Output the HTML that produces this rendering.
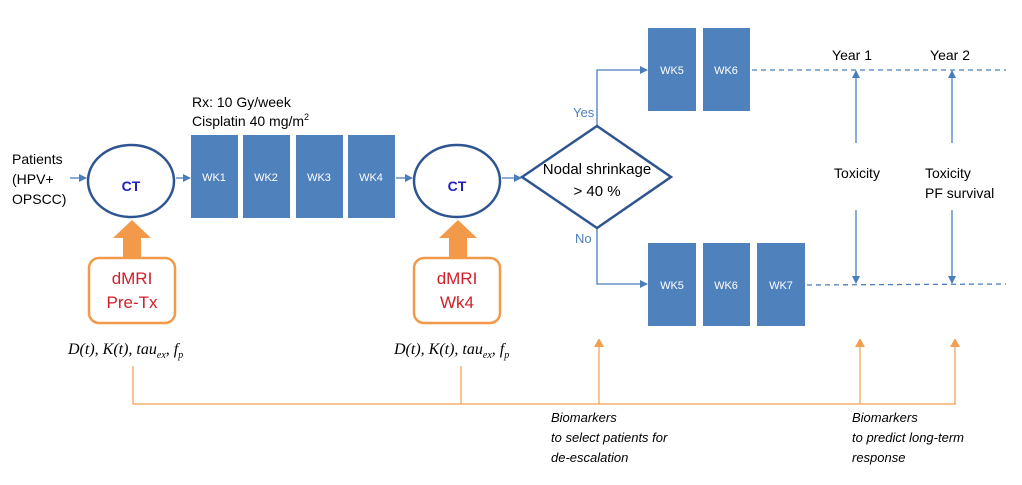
<!DOCTYPE html>
<html><head><meta charset="utf-8"><style>
body{margin:0;background:#fff;width:1022px;height:480px;overflow:hidden}
svg text{font-family:"Liberation Sans",sans-serif}
</style></head><body>
<svg width="1022" height="480" viewBox="0 0 1022 480" xmlns="http://www.w3.org/2000/svg">
<defs>
<marker id="ab" markerWidth="8" markerHeight="8" refX="7" refY="4" orient="auto" markerUnits="userSpaceOnUse"><path d="M0,0 L8,4 L0,8 Z" fill="#4a7ebb"/></marker>
<marker id="ao" markerWidth="8" markerHeight="10" refX="7" refY="5" orient="auto" markerUnits="userSpaceOnUse"><path d="M0,0 L9,5 L0,10 Z" fill="#f0a050"/></marker>
</defs>
<g font-size="14" fill="#000">
<text x="12" y="164">Patients</text><text x="12" y="184">(HPV+</text><text x="12" y="204">OPSCC)</text>
<text x="192" y="107">Rx: 10 Gy/week</text>
<text x="192" y="126">Cisplatin 40 mg/m<tspan dy="-6" font-size="9">2</tspan></text>
</g>
<g stroke="#4a7ebb" stroke-width="1.3" fill="none">
<line x1="70" y1="178" x2="86" y2="178" marker-end="url(#ab)"/>
<line x1="176" y1="178" x2="190" y2="178" marker-end="url(#ab)"/>
<line x1="396" y1="178" x2="412" y2="178" marker-end="url(#ab)"/>
<line x1="502" y1="178" x2="521" y2="178" marker-end="url(#ab)"/>
<polyline points="597,126 597,70 647,70" marker-end="url(#ab)"/>
<polyline points="597,228 597,284 647,284" marker-end="url(#ab)"/>
<line x1="856" y1="143" x2="856" y2="71" marker-end="url(#ab)"/>
<line x1="856" y1="210" x2="856" y2="283" marker-end="url(#ab)"/>
<line x1="952" y1="143" x2="952" y2="71" marker-end="url(#ab)"/>
<line x1="952" y1="210" x2="952" y2="283" marker-end="url(#ab)"/>
<line x1="752" y1="70" x2="1006" y2="70" stroke-dasharray="5,4"/>
<line x1="807" y1="285" x2="1006" y2="284" stroke-dasharray="5,4"/>
</g>
<g stroke="#2e5591" stroke-width="2.5" fill="#fff">
<ellipse cx="131" cy="181" rx="43" ry="36"/>
<ellipse cx="457" cy="181" rx="43" ry="36"/>
<polygon points="522,177 597,126 671,177 597,228"/>
</g>
<g font-size="14" font-weight="bold" fill="#1f1fbf" text-anchor="middle">
<text x="131" y="191">CT</text><text x="457" y="191">CT</text>
</g>
<g font-size="15" fill="#000" text-anchor="middle">
<text x="597" y="174">Nodal shrinkage</text><text x="597" y="196">&gt; 40 %</text>
</g>
<g fill="#4f81bd">
<rect x="191" y="135" width="47" height="83"/><rect x="243" y="135" width="47" height="83"/>
<rect x="296" y="135" width="47" height="83"/><rect x="348" y="135" width="47" height="83"/>
<rect x="648" y="28" width="48" height="83"/><rect x="703" y="28" width="47" height="83"/>
<rect x="648" y="243" width="48" height="83"/><rect x="703" y="243" width="47" height="83"/><rect x="757" y="243" width="48" height="83"/>
</g>
<g font-size="11" fill="#fff" text-anchor="middle">
<text x="214" y="181">WK1</text><text x="266" y="181">WK2</text><text x="319" y="181">WK3</text><text x="371" y="181">WK4</text>
<text x="672" y="74">WK5</text><text x="726" y="74">WK6</text>
<text x="672" y="289">WK5</text><text x="726" y="289">WK6</text><text x="781" y="289">WK7</text>
</g>
<g font-size="13" fill="#4a7ebb"><text x="573" y="117">Yes</text><text x="575" y="243">No</text></g>
<g font-size="14" fill="#000" text-anchor="middle">
<text x="852" y="60">Year 1</text><text x="950" y="60">Year 2</text>
<text x="857" y="178">Toxicity</text>
</g>
<g font-size="14" fill="#000"><text x="925" y="178">Toxicity</text><text x="925" y="198">PF survival</text></g>
<g fill="#f39a4a">
<polygon points="123,258 123,238 113,238 132,220 151,238 141,238 141,258"/>
<polygon points="449,258 449,238 439,238 458,220 477,238 467,238 467,258"/>
</g>
<g stroke="#f39a4a" stroke-width="2.5" fill="#fff">
<rect x="89" y="258" width="86" height="65" rx="10"/>
<rect x="414" y="258" width="86" height="65" rx="10"/>
</g>
<g font-size="17" fill="#d0202a" text-anchor="middle">
<text x="132" y="284">dMRI</text><text x="132" y="308">Pre-Tx</text>
<text x="457" y="284">dMRI</text><text x="457" y="308">Wk4</text>
</g>
<g font-style="italic" font-size="16" fill="#000">
<text x="68" y="354" style="font-family:'Liberation Serif',serif">D(t), K(t), tau<tspan font-size="10" dy="4">ex</tspan><tspan dy="-4">, f</tspan><tspan font-size="10" dy="4">p</tspan></text>
<text x="394" y="354" style="font-family:'Liberation Serif',serif">D(t), K(t), tau<tspan font-size="10" dy="4">ex</tspan><tspan dy="-4">, f</tspan><tspan font-size="10" dy="4">p</tspan></text>
</g>
<g stroke="#f0a050" stroke-width="1.2" fill="none">
<polyline points="133,366 133,404 956,404"/>
<line x1="461" y1="366" x2="461" y2="404"/>
<line x1="599" y1="404" x2="599" y2="340" marker-end="url(#ao)"/>
<line x1="860" y1="404" x2="860" y2="340" marker-end="url(#ao)"/>
<line x1="955" y1="404" x2="955" y2="340" marker-end="url(#ao)"/>
</g>
<g font-size="13" font-style="italic" fill="#000">
<text x="551" y="422">Biomarkers</text><text x="551" y="442">to select patients for</text><text x="551" y="462">de-escalation</text>
<text x="852" y="422">Biomarkers</text><text x="852" y="442">to predict long-term</text><text x="852" y="462">response</text>
</g>
</svg>
</body></html>
